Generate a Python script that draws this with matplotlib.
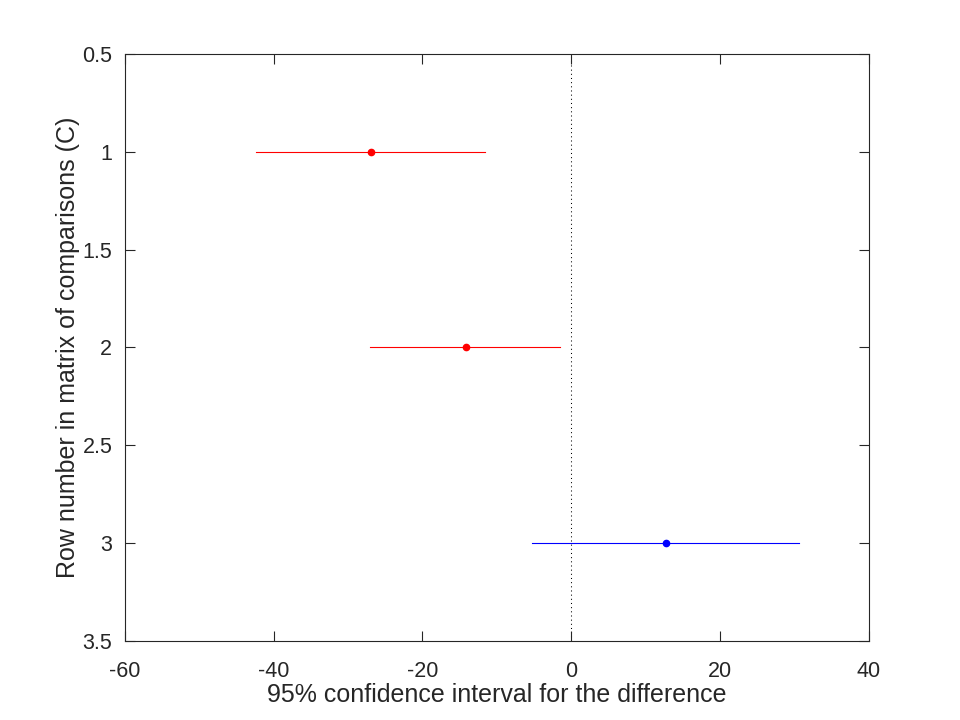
import matplotlib
matplotlib.use("Agg")
import matplotlib.pyplot as plt

rows = [1, 2, 3]
lower = [-42.3, -27.1, -5.3]
upper = [-11.6, -1.5, 30.6]
estimate = [-26.9, -14.2, 12.7]
colors = ["#ff0000", "#ff0000", "#0000ff"]
xticks = [-60, -40, -20, 0, 20, 40]
yticks = [0.5, 1, 1.5, 2, 2.5, 3, 3.5]
ytick_labels = ["0.5", "1", "1.5", "2", "2.5", "3", "3.5"]

plt.rcParams['font.family'] = ['Liberation Sans', 'DejaVu Sans']

fig = plt.figure(figsize=(9.6, 7.2), dpi=100)
ax = fig.add_axes([0.13, 0.11, 0.775, 0.815])

ax.axvline(0, color="black", linestyle=(0, (1, 3)), linewidth=0.75, zorder=1)
for r, lo, hi, est, c in zip(rows, lower, upper, estimate, colors):
    ax.plot([lo, hi], [r, r], color=c, linewidth=0.8, zorder=2)
    ax.plot([est], [r], marker="o", color=c, markersize=4.5, zorder=3, linestyle="none")

ax.set_xlim(-60, 40)
ax.set_ylim(3.5, 0.5)
ax.set_xticks(xticks)
ax.set_xticklabels([str(t) for t in xticks])
ax.set_yticks(yticks)
ax.set_yticklabels(ytick_labels)
ax.tick_params(direction="in", length=7, width=0.8, labelsize=15.5, colors="#262626",
               top=True, right=True)
ax.tick_params(axis="x", pad=14.5)
ax.tick_params(axis="y", pad=9)
for s in ax.spines.values():
    s.set_linewidth(0.8)
    s.set_color("#262626")
ax.set_xlabel("95% confidence interval for the difference", fontsize=18, color="#262626", labelpad=1)
ax.set_ylabel("Row number in matrix of comparisons (C)", fontsize=18, color="#262626", labelpad=2)

fig.savefig("out.png", dpi=100)
